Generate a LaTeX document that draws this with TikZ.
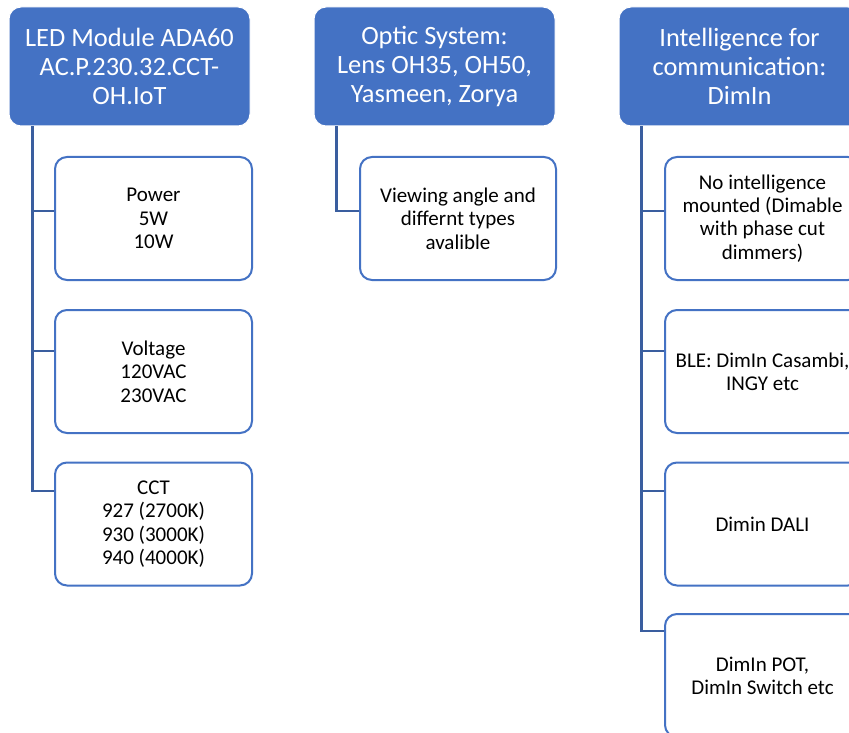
\documentclass[tikz,border=0pt]{standalone}
\usepackage{fontspec}
\setmainfont{Carlito}
\definecolor{hdrblue}{HTML}{4472C4}
\definecolor{connblue}{HTML}{3A5E9F}
\begin{document}
\begin{tikzpicture}[x=1pt,y=1pt,
  hdr/.style={fill=hdrblue, draw=white, line width=1pt, rounded corners=12pt, text=white,
    minimum width=241pt, minimum height=119pt, inner sep=0pt, align=center,
    font=\fontsize{26.4}{29}\selectfont},
  child/.style={fill=white, draw=hdrblue, line width=2pt, rounded corners=12pt, text=black,
    minimum height=123pt, inner sep=0pt, align=center,
    font=\fontsize{21}{23.3}\selectfont},
  conn/.style={draw=connblue, line width=2.5pt}]
\clip (0,0) rectangle (849,-733);
\fill[white] (0,0) rectangle (849,-733);
% headers
\node[hdr] (h1) at (129.5,-66.5) {LED Module ADA60\\AC.P.230.32.CCT-\\OH.IoT};
\node[hdr] (h2) at (434.5,-66.5) {Optic System:\\Lens OH35, OH50,\\Yasmeen, Zorya};
\node[hdr] (h3) at (739.5,-66.5) {Intelligence for\\communication:\\DimIn};
% left children
\node[child, minimum width=197pt] (a1) at (153.5,-218.5) {Power\\5W\\10W};
\node[child, minimum width=197pt] (a2) at (153.5,-371.5) {Voltage\\120VAC\\230VAC};
\node[child, minimum width=197pt] (a3) at (153.5,-524) {CCT\\927 (2700K)\\930 (3000K)\\940 (4000K)};
% middle child
\node[child, minimum width=196pt] (b1) at (458,-218.5) {Viewing angle and\\differnt types\\avalible};
% right children
\node[child, minimum width=195pt] (c1) at (762.5,-218.5) {No intelligence\\mounted (Dimable\\with phase cut\\dimmers)};
\node[child, minimum width=195pt] (c2) at (762.5,-371.5) {BLE: DimIn Casambi,\\INGY etc};
\node[child, minimum width=195pt] (c3) at (762.5,-524) {Dimin DALI};
\node[child, minimum width=195pt] (c4) at (762.5,-675.5) {DimIn POT,\\DimIn Switch etc};
% connectors
\coordinate (ha) at ([xshift=24pt]h1.south west);
\coordinate (hb) at ([xshift=23pt]h2.south west);
\coordinate (hc) at ([xshift=23pt]h3.south west);
\draw[conn] (ha) |- ([yshift=33pt]a3.west);
\draw[conn] (ha |- a1.west) ++(0,7.5) -- ([yshift=7.5pt]a1.west);
\draw[conn] (ha |- a2.west) ++(0,20.5) -- ([yshift=20.5pt]a2.west);
\draw[conn] (hb) |- ([yshift=7.5pt]b1.west);
\draw[conn] (hc) |- ([yshift=44.5pt]c4.west);
\draw[conn] (hc |- c1.west) ++(0,7.5) -- ([yshift=7.5pt]c1.west);
\draw[conn] (hc |- c2.west) ++(0,20.5) -- ([yshift=20.5pt]c2.west);
\draw[conn] (hc |- c3.west) ++(0,33) -- ([yshift=33pt]c3.west);
\end{tikzpicture}
\end{document}
